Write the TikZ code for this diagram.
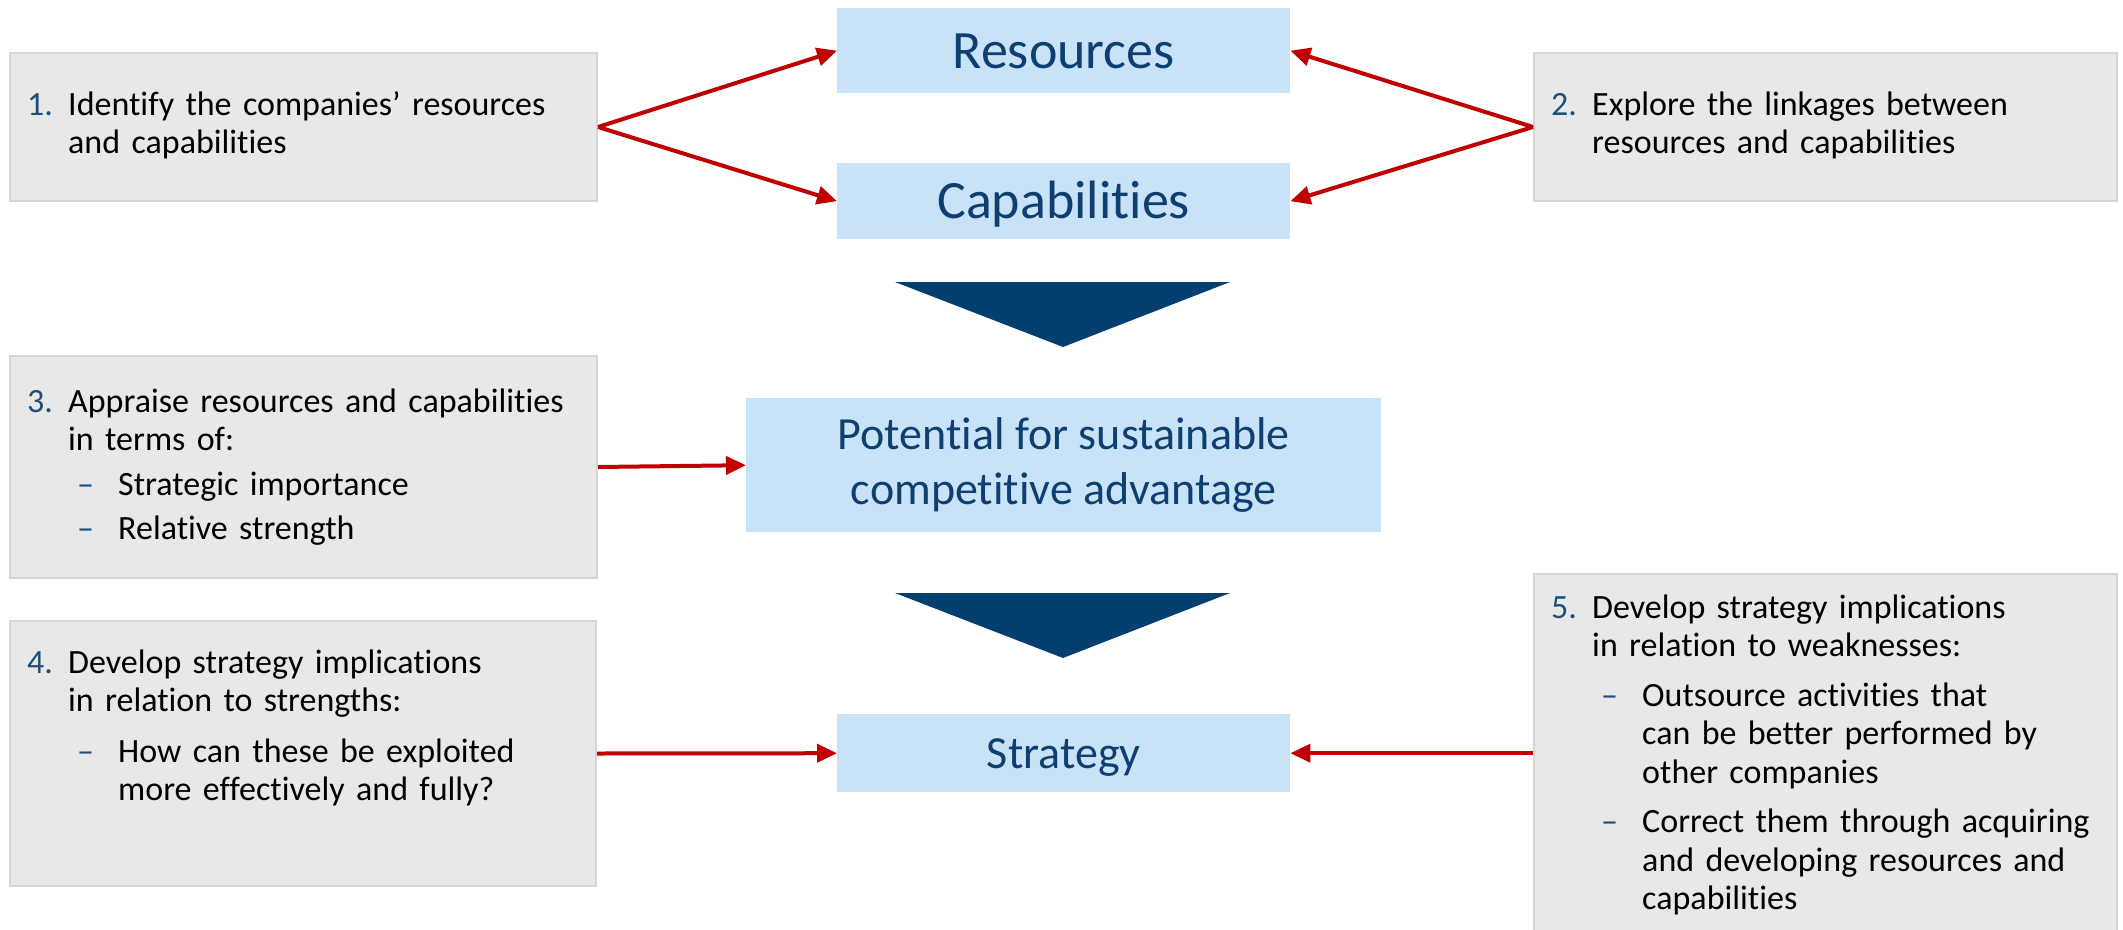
\documentclass[tikz,border=0pt]{standalone}
\usepackage{fontspec}
\setmainfont{Carlito}[Ligatures=NoCommon]
\usetikzlibrary{arrows.meta}
\definecolor{boxgrey}{HTML}{E8E8E8}
\definecolor{boxedge}{HTML}{D6D6D6}
\definecolor{lightblue}{HTML}{C8E3F8}
\definecolor{titleblue}{HTML}{0E3F70}
\definecolor{numblue}{HTML}{1F4E79}
\definecolor{navy}{HTML}{053F6F}
\definecolor{arrowred}{HTML}{C00000}

\newcommand{\numitem}[2]{\noindent\hangindent=41pt\hangafter=1\rule{0pt}{26pt}\makebox[41pt][l]{\color{numblue}#1}#2\par}
\newcommand{\dashitem}[1]{\noindent\hangindent=91pt\hangafter=1\hspace*{50pt}\makebox[41pt][l]{\color{numblue}–}#1\par}

\tikzset{
  gbox/.style={draw=boxedge, line width=2pt, fill=boxgrey, anchor=north west, inner sep=0pt},
  bbox/.style={fill=lightblue, anchor=north west, inner sep=0pt, text=titleblue, align=center},
  bodytext/.style={anchor=north west, inner sep=0pt, text width=#1, align=left, font=\fontsize{34}{38.5}\selectfont},
  bodytext/.default=540pt,
  link/.style={draw=arrowred, line width=4pt, -{Triangle[length=20pt,width=18pt]}},
}

\begin{document}
\begin{tikzpicture}[x=1pt,y=-1pt]
\useasboundingbox (0,0) rectangle (2123,929);
\clip (0,0) rectangle (2123,929);

% grey boxes
\node[gbox, minimum width=587pt, minimum height=148pt] (b1) at (9,52) {};
\node[gbox, minimum width=583pt, minimum height=148pt] (b2) at (1533,52) {};
\node[gbox, minimum width=587pt, minimum height=222pt] (b3) at (9,355) {};
\node[gbox, minimum width=586pt, minimum height=265pt] (b4) at (9,620) {};
\node[gbox, minimum width=583pt, minimum height=380pt] (b5) at (1533,573) {};

% blue boxes
\node[bbox, minimum width=453pt, minimum height=85pt, font=\fontsize{54}{60}\selectfont, text height=35pt, text depth=0pt] (res) at (837,8) {Resources};
\node[bbox, minimum width=453pt, minimum height=76pt, font=\fontsize{54}{60}\selectfont, text height=35pt, text depth=0pt] (cap) at (837,163) {Capabilities};
\node[bbox, minimum width=635pt, minimum height=134pt, font=\fontsize{46}{55}\selectfont] (pot) at (746,398) {Potential for sustainable\\competitive advantage};
\node[bbox, minimum width=453pt, minimum height=78pt, font=\fontsize{46}{55}\selectfont, text height=30pt, text depth=0pt] (strat) at (837,714) {Strategy};

% down triangles
\fill[navy] (895,282) -- (1230,282) -- (1063,347) -- cycle;
\fill[navy] (895,593) -- (1230,593) -- (1063,658) -- cycle;

% texts
\node[bodytext] (t1) at (27,89) {\setlength{\parskip}{0pt}%
\numitem{1.}{Identify the companies’ resources\newline and capabilities}};
\node[bodytext=550pt] (t2) at (1551,89) {\setlength{\parskip}{0pt}%
\numitem{2.}{Explore the linkages between\newline resources and capabilities}};
\node[bodytext] (t3) at (27,386) {\setlength{\parskip}{6pt}%
\numitem{3.}{Appraise resources and capabilities\newline in terms of:}
\dashitem{Strategic importance}
\dashitem{Relative strength}};
\node[bodytext] (t4) at (27,647) {\setlength{\parskip}{12pt}%
\numitem{4.}{Develop strategy implications\newline in relation to strengths:}
\dashitem{How can these be exploited\newline more effectively and fully?}};
\node[bodytext=560pt] (t5) at (1551,592) {\setlength{\parskip}{11pt}%
\numitem{5.}{Develop strategy implications\newline in relation to weaknesses:}
\dashitem{Outsource activities that\newline can be better performed by\newline other companies}
\dashitem{Correct them through acquiring\newline and developing resources and\newline capabilities}};

% connectors
\draw[link] (b1.east) -- (res.west);
\draw[link] (b1.east) -- (cap.west);
\draw[link] (b2.west) -- (res.east);
\draw[link] (b2.west) -- (cap.east);
\draw[link] (b3.east) -- (pot.west);
\draw[link] (b4.east) -- (strat.west);
\draw[link] (b5.west |- strat.east) -- (strat.east);
\end{tikzpicture}
\end{document}
